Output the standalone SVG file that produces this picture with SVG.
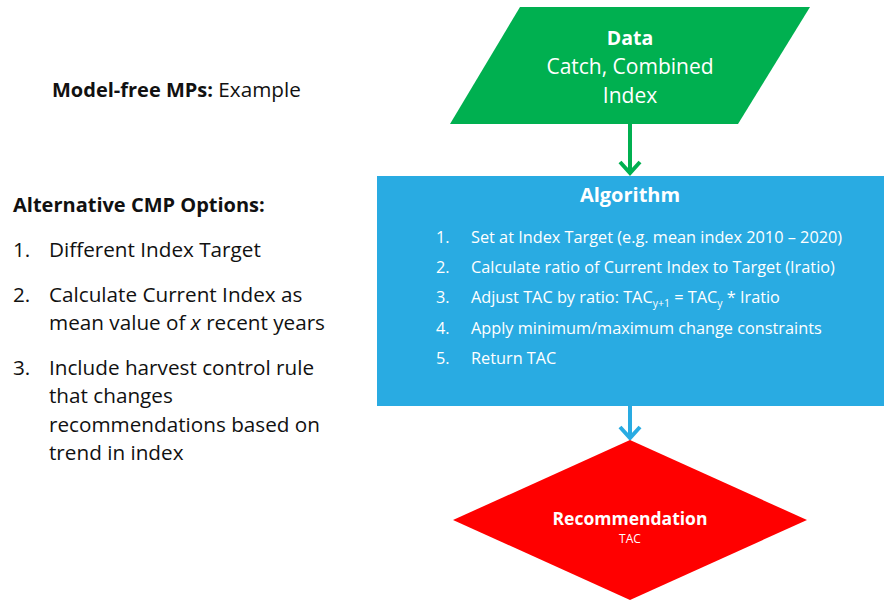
<svg xmlns="http://www.w3.org/2000/svg" width="886" height="603" viewBox="0 0 886 603">
<defs>
<style>
text{font-family:"Open Sans","Liberation Sans",Arial,sans-serif;}
.w{fill:#ffffff;}
.k{fill:#111111;}
.b{font-weight:bold;}
.left{font-size:20.7px;}
.lb{font-size:20px;font-weight:bold;}
.alg{font-size:16.3px;fill:#ffffff;}
</style>
</defs>
<rect width="886" height="603" fill="#ffffff"/>
<g id="left-text">
<text x="52" y="97" class="k left"><tspan class="lb">Model-free MPs:</tspan> Example</text>
<text x="13" y="212" class="k lb">Alternative CMP Options:</text>
<text x="13" y="257" class="k left">1.</text>
<text x="49" y="257" class="k left">Different Index Target</text>
<text x="13" y="302" class="k left">2.</text>
<text x="49" y="302" class="k left">Calculate Current Index as</text>
<text x="49" y="330" class="k left">mean value of <tspan font-style="italic">x</tspan> recent years</text>
<text x="13" y="375" class="k left">3.</text>
<text x="49" y="375" class="k left">Include harvest control rule</text>
<text x="49" y="403" class="k left">that changes</text>
<text x="49" y="432" class="k left">recommendations based on</text>
<text x="49" y="460" class="k left">trend in index</text>
</g>
<g id="connectors" fill="none" stroke-width="4" stroke-linecap="butt" stroke-linejoin="miter">
<g stroke="#00B050">
<line x1="630" y1="124" x2="630" y2="173"/>
<polyline points="620,162 630,173 640,162"/>
</g>
<g stroke="#29ABE2">
<line x1="630" y1="406" x2="630" y2="438"/>
<polyline points="620,427 630,438 640,427"/>
</g>
</g>
<g id="data">
<polygon points="520,7 810,7 738,124 450,124" fill="#00B050"/>
<text x="630" y="45" text-anchor="middle" class="w b" font-size="19.5">Data</text>
<text x="630" y="74" text-anchor="middle" class="w" font-size="21">Catch, Combined</text>
<text x="630" y="103" text-anchor="middle" class="w" font-size="21">Index</text>
</g>
<g id="algorithm">
<rect x="377" y="176" width="507" height="230" fill="#29ABE2"/>
<text x="630" y="202" text-anchor="middle" class="w b" font-size="20">Algorithm</text>
<text x="436" y="243" class="alg">1.</text>
<text x="471" y="243" class="alg">Set at Index Target (e.g. mean index 2010 – 2020)</text>
<text x="436" y="273" class="alg">2.</text>
<text x="471" y="273" class="alg">Calculate ratio of Current Index to Target (Iratio)</text>
<text x="436" y="303" class="alg">3.</text>
<text x="471" y="303" class="alg">Adjust TAC by ratio: TAC<tspan font-size="10.5" dy="4">y+1</tspan><tspan dy="-4"> = TAC</tspan><tspan font-size="10.5" dy="4">y</tspan><tspan dy="-4"> * Iratio</tspan></text>
<text x="436" y="334" class="alg">4.</text>
<text x="471" y="334" class="alg">Apply minimum/maximum change constraints</text>
<text x="436" y="364" class="alg">5.</text>
<text x="471" y="364" class="alg">Return TAC</text>
</g>
<g id="recommendation">
<polygon points="630,440 807,520 630,600 453,520" fill="#FF0000"/>
<text x="630" y="525" text-anchor="middle" class="w b" font-size="17.5">Recommendation</text>
<text x="630" y="543" text-anchor="middle" class="w" font-size="12">TAC</text>
</g>
</svg>
